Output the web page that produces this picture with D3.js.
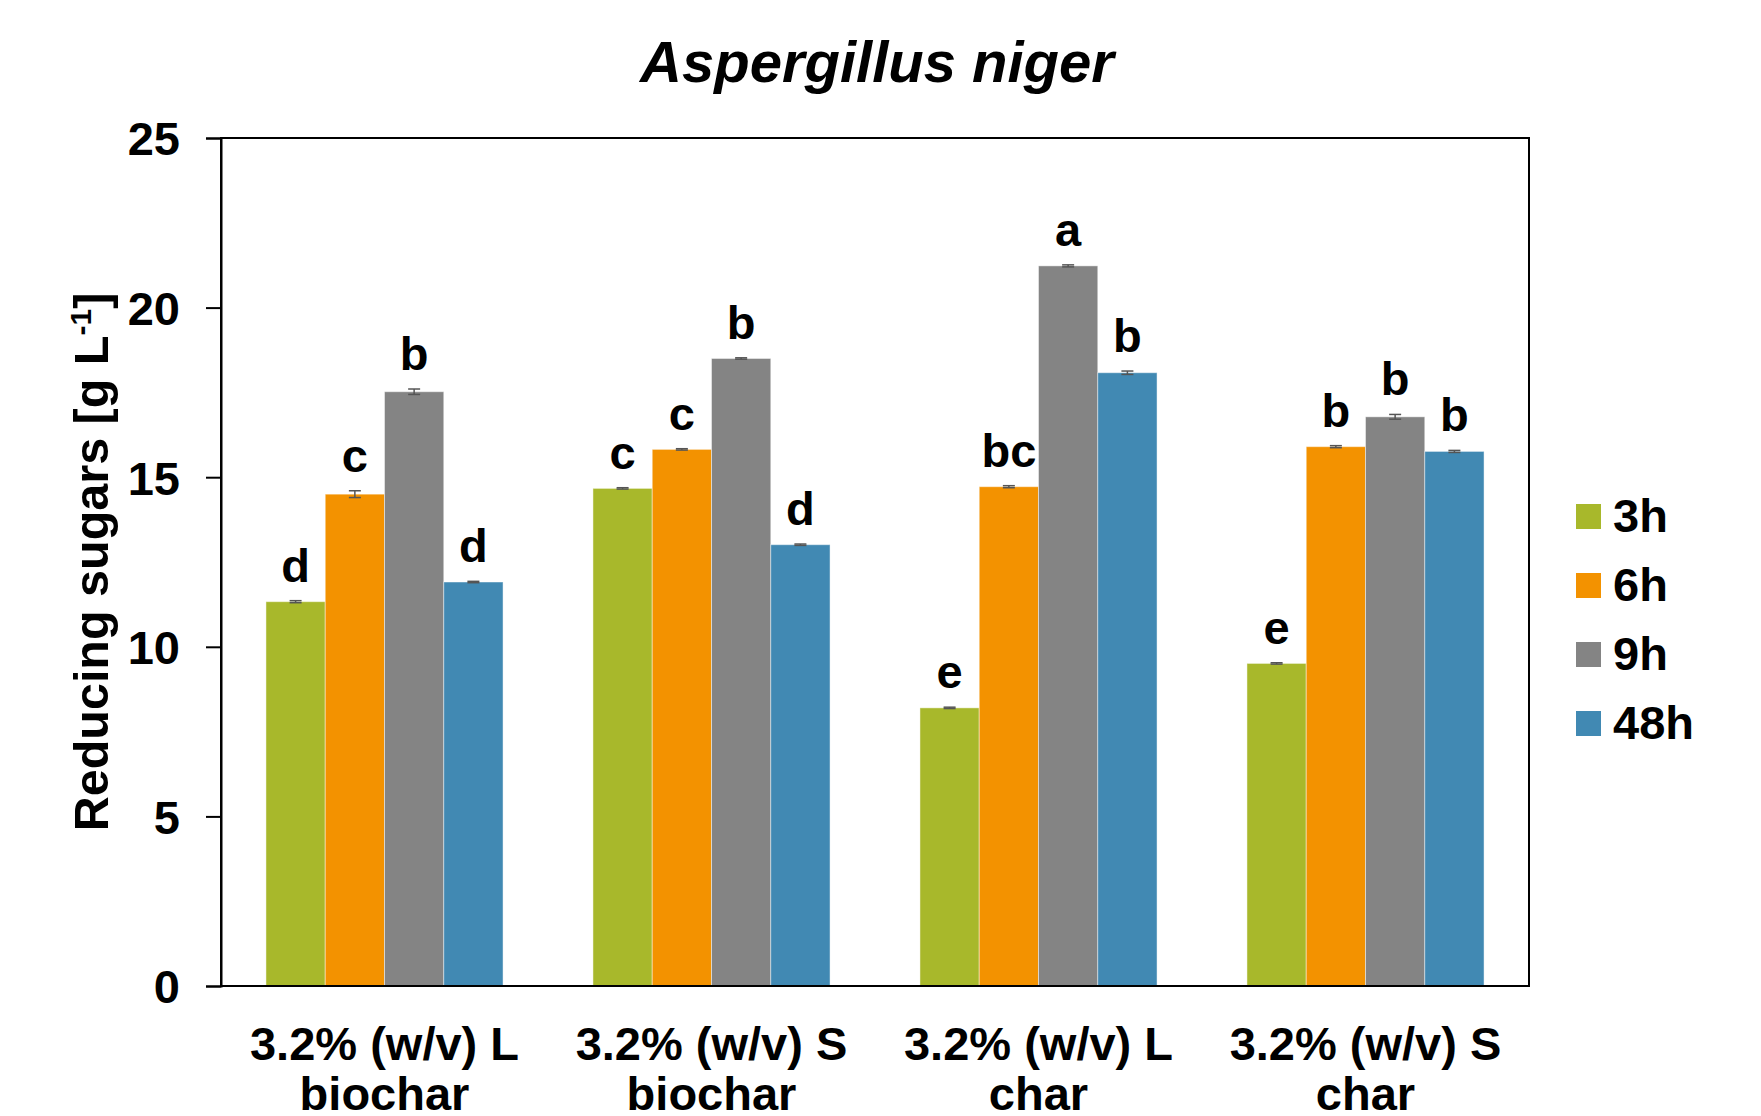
<!DOCTYPE html>
<html>
<head>
<meta charset="utf-8">
<script src="https://cdn.jsdelivr.net/npm/d3@7"></script>
<style>
  body { margin: 0; background: #fff; }
  svg text { font-family: "Liberation Sans", Arial, sans-serif; font-weight: bold; fill: #000; }
</style>
</head>
<body>
<div id="chart"></div>
<script>
// data
const categories = [
  ['3.2% (w/v) L', 'biochar'],
  ['3.2% (w/v) S', 'biochar'],
  ['3.2% (w/v) L', 'char'],
  ['3.2% (w/v) S', 'char']
]
const seriesNames = ['3h', '6h', '9h', '48h']
const values3h = [11.33, 14.67, 8.20, 9.51]
const values6h = [14.50, 15.82, 14.72, 15.90]
const values9h = [17.52, 18.50, 21.23, 16.78]
const values48h = [11.91, 13.01, 18.08, 15.76]
const errors3h = [0.03, 0.02, 0.02, 0.02]
const errors6h = [0.10, 0.02, 0.03, 0.03]
const errors9h = [0.08, 0.02, 0.03, 0.07]
const errors48h = [0.02, 0.02, 0.05, 0.03]
const letters3h = ['d', 'c', 'e', 'e']
const letters6h = ['c', 'c', 'bc', 'b']
const letters9h = ['b', 'b', 'a', 'b']
const letters48h = ['d', 'd', 'b', 'b']
const yTicks = [0, 5, 10, 15, 20, 25]

const colors = ['#a8b82b', '#f39200', '#848484', '#4189b3']

const width = 1761
const height = 1116
const margin = { top: 138, right: 232, bottom: 130, left: 221 }
const innerW = width - margin.left - margin.right
const innerH = height - margin.top - margin.bottom

const series = [
  { name: seriesNames[0], values: values3h, errors: errors3h, letters: letters3h },
  { name: seriesNames[1], values: values6h, errors: errors6h, letters: letters6h },
  { name: seriesNames[2], values: values9h, errors: errors9h, letters: letters9h },
  { name: seriesNames[3], values: values48h, errors: errors48h, letters: letters48h }
]

const rows = []
series.forEach((s, si) => {
  s.values.forEach((v, ci) => {
    rows.push({ cat: ci, series: si, value: v, err: s.errors[ci], letter: s.letters[ci] })
  })
})

const svg = d3.select('#chart')
  .append('svg')
  .attr('width', width)
  .attr('height', height)

const g = svg.append('g')
  .attr('transform', `translate(${margin.left},${margin.top})`)

const x0 = d3.scaleBand()
  .domain(d3.range(categories.length))
  .range([0, innerW])

const groupW = x0.bandwidth() * 0.725
const x1 = d3.scaleBand()
  .domain(d3.range(seriesNames.length))
  .range([(x0.bandwidth() - groupW) / 2, (x0.bandwidth() + groupW) / 2])

const y = d3.scaleLinear()
  .domain([0, 25])
  .range([innerH, 0])

// bars
g.append('g')
  .selectAll('rect')
  .data(rows)
  .enter()
  .append('rect')
  .attr('x', d => x0(d.cat) + x1(d.series))
  .attr('y', d => y(d.value))
  .attr('width', x1.bandwidth())
  .attr('height', d => innerH - y(d.value))
  .attr('fill', d => colors[d.series])
  .attr('stroke', 'rgba(255,255,255,0.45)')
  .attr('stroke-width', 1)

// error bars
const errG = g.append('g')
  .attr('stroke', '#555')
  .attr('stroke-width', 1.5)
const cx = d => x0(d.cat) + x1(d.series) + x1.bandwidth() / 2
errG.selectAll('.ev')
  .data(rows)
  .enter()
  .append('line')
  .attr('x1', cx)
  .attr('x2', cx)
  .attr('y1', d => y(d.value - d.err))
  .attr('y2', d => y(d.value + d.err))
errG.selectAll('.et')
  .data(rows)
  .enter()
  .append('line')
  .attr('x1', d => cx(d) - 6)
  .attr('x2', d => cx(d) + 6)
  .attr('y1', d => y(d.value + d.err))
  .attr('y2', d => y(d.value + d.err))
errG.selectAll('.eb')
  .data(rows)
  .enter()
  .append('line')
  .attr('x1', d => cx(d) - 6)
  .attr('x2', d => cx(d) + 6)
  .attr('y1', d => y(d.value - d.err))
  .attr('y2', d => y(d.value - d.err))

// significance letters
g.append('g')
  .selectAll('text')
  .data(rows)
  .enter()
  .append('text')
  .attr('x', cx)
  .attr('y', d => y(d.value + d.err) - 19)
  .attr('text-anchor', 'middle')
  .style('font-size', '47px')
  .text(d => d.letter)

// frame
g.append('rect')
  .attr('x', 0)
  .attr('y', 0)
  .attr('width', innerW)
  .attr('height', innerH)
  .attr('fill', 'none')
  .attr('stroke', '#000')
  .attr('stroke-width', 2)

// y axis
const yAxis = g.append('g')
  .call(d3.axisLeft(y).tickValues(yTicks).tickSize(15).tickPadding(26))
yAxis.select('.domain').attr('stroke', '#000').attr('stroke-width', 2)
yAxis.selectAll('.tick line').attr('stroke', '#000').attr('stroke-width', 2)
yAxis.selectAll('.tick text')
  .style('font-size', '47px')
  .attr('dy', '0.36em')

// x labels
const xl = g.append('g')
  .selectAll('text')
  .data(categories)
  .enter()
  .append('text')
  .attr('text-anchor', 'middle')
  .attr('x', (d, i) => x0(i) + x0.bandwidth() / 2)
  .attr('y', innerH + 74)
  .style('font-size', '47px')
xl.append('tspan')
  .attr('x', (d, i) => x0(i) + x0.bandwidth() / 2)
  .text(d => d[0])
xl.append('tspan')
  .attr('x', (d, i) => x0(i) + x0.bandwidth() / 2)
  .attr('dy', 50)
  .text(d => d[1])

// y axis title
const yt = svg.append('text')
  .attr('transform', `translate(108,${margin.top + innerH / 2}) rotate(-90)`)
  .attr('text-anchor', 'middle')
  .style('font-size', '48.5px')
yt.append('tspan').text('Reducing sugars [g L')
yt.append('tspan').attr('dy', -17).style('font-size', '30px').text('-1')
yt.append('tspan').attr('dy', 17).text(']')

// title
svg.append('text')
  .attr('x', margin.left + innerW / 2 + 2)
  .attr('y', 82)
  .attr('text-anchor', 'middle')
  .style('font-size', '58px')
  .style('font-style', 'italic')
  .text('Aspergillus niger')

// legend
const legend = svg.append('g')
  .attr('transform', 'translate(1576,504)')
const li = legend.selectAll('g')
  .data(seriesNames)
  .enter()
  .append('g')
  .attr('transform', (d, i) => `translate(0,${i * 69})`)
li.append('rect')
  .attr('width', 25)
  .attr('height', 25)
  .attr('fill', (d, i) => colors[i])
li.append('text')
  .attr('x', 37)
  .attr('y', 28)
  .style('font-size', '47px')
  .text(d => d)
</script>
</body>
</html>
